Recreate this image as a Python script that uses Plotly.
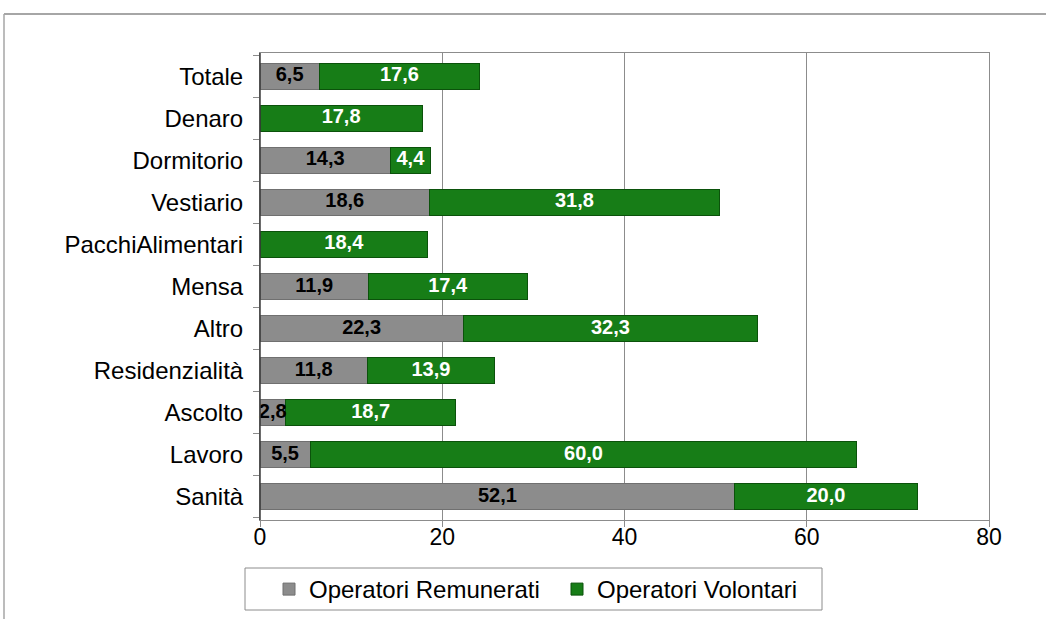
import plotly.graph_objects as go

categories = ["Sanità", "Lavoro", "Ascolto", "Residenzialità", "Altro", "Mensa",
              "PacchiAlimentari", "Vestiario", "Dormitorio", "Denaro", "Totale"]
remunerati = [52.1, 5.5, 2.8, 11.8, 22.3, 11.9, 0, 18.6, 14.3, 0, 6.5]
volontari = [20.0, 60.0, 18.7, 13.9, 32.3, 17.4, 18.4, 31.8, 4.4, 17.8, 17.6]
x_ticks = [0, 20, 40, 60, 80]

def fmt(v):
    return ("%.1f" % v).replace(".", ",")

FONT = "Liberation Sans, Arial, sans-serif"

fig = go.Figure()
fig.add_trace(go.Bar(
    y=categories, x=remunerati, orientation="h", name="Operatori Remunerati",
    marker=dict(color="#8c8c8c", line=dict(color="#707070", width=1)),
    hoverinfo="x+y",
))
fig.add_trace(go.Bar(
    y=categories, x=volontari, orientation="h", name="Operatori Volontari",
    marker=dict(color="#177d17", line=dict(color="#0b520b", width=1)),
    hoverinfo="x+y",
))

# data labels centred in each segment
r_cats = [c for c, r in zip(categories, remunerati) if r > 0]
r_pos = [r / 2 for r in remunerati if r > 0]
r_txt = [fmt(r) for r in remunerati if r > 0]
v_pos = [r + v / 2 for r, v in zip(remunerati, volontari)]
v_txt = [fmt(v) for v in volontari]

fig.add_trace(go.Scatter(
    y=r_cats, x=r_pos, mode="text", text=r_txt, showlegend=False, hoverinfo="skip",
    textfont=dict(family=FONT, size=20, color="black", weight="bold"), cliponaxis=False,
))
fig.add_trace(go.Scatter(
    y=categories, x=v_pos, mode="text", text=v_txt, showlegend=False, hoverinfo="skip",
    textfont=dict(family=FONT, size=20, color="white", weight="bold"), cliponaxis=False,
))

L, R, T, B = 260, 57, 53, 99
W, H = 1046, 619
pw, ph = W - L - R, H - T - B

def px(x):
    return (x - L) / pw

def py(y):
    return (H - B - y) / ph

fig.update_layout(
    barmode="stack",
    bargap=0.38,
    width=W, height=H,
    margin=dict(l=L, r=R, t=T, b=B, autoexpand=False),
    paper_bgcolor="white", plot_bgcolor="white",
    font=dict(family=FONT, size=24, color="black"),
    xaxis=dict(range=[0, 80], tickvals=x_ticks, ticktext=[str(v) for v in x_ticks],
               showgrid=True, gridcolor="#8c8c8c", gridwidth=1,
               showline=True, linecolor="#8c8c8c", mirror=True,
               ticks="outside", ticklen=6, tickcolor="#8c8c8c",
               zeroline=False, tickfont=dict(size=23), ticklabelstandoff=-10),
    yaxis=dict(categoryorder="array", categoryarray=categories,
               showline=True, linecolor="#8c8c8c", mirror=True, showgrid=False,
               ticks="outside", ticklen=6, tickcolor="#8c8c8c", tickson="boundaries",
               tickfont=dict(size=24), ticklabelstandoff=11),
    legend=dict(orientation="h", x=px(269), xanchor="left", y=py(567), yanchor="top",
                borderwidth=0, bgcolor="rgba(0,0,0,0)", font=dict(size=24),
                traceorder="normal", itemwidth=30, entrywidth=243, entrywidthmode="pixels"),
    showlegend=True,
    shapes=[
        dict(type="line", xref="paper", yref="paper", x0=px(4), x1=px(1046), y0=py(14), y1=py(14),
             line=dict(color="#a6a6a6", width=2)),
        dict(type="line", xref="paper", yref="paper", x0=px(4), x1=px(4), y0=py(14), y1=py(619),
             line=dict(color="#a6a6a6", width=1.5)),
        dict(type="rect", xref="paper", yref="paper", x0=px(245), x1=px(822), y0=py(568), y1=py(610),
             line=dict(color="#8c8c8c", width=1)),
        dict(type="line", xref="paper", yref="paper", x0=0, x1=0, y0=0, y1=1,
             line=dict(color="#3c3c3c", width=1.5)),
    ],
)

fig.write_html("out.html", config={"displayModeBar": False},
               post_script="document.body.style.margin='0';document.body.style.overflow='hidden';")
